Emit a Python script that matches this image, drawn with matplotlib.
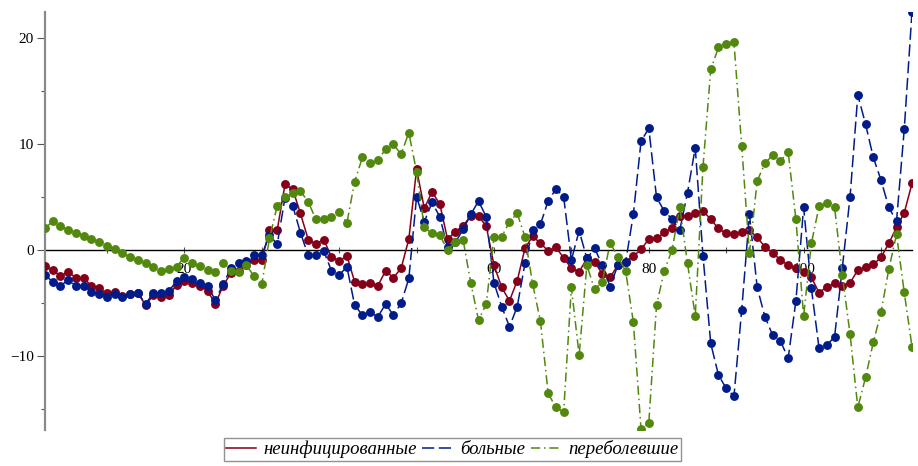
import matplotlib
matplotlib.use("Agg")
import matplotlib.pyplot as plt
from matplotlib.lines import Line2D
import numpy as np

# ---- data -------------------------------------------------------------
x_start, x_end = 2, 114

uninfected = [  # неинфицированные
    -1.48, -1.89, -2.46, -2.05, -2.61, -2.68, -3.37, -3.62, -4.09, -3.94,
    -4.31, -4.16, -4.09, -5.20, -4.25, -4.47, -4.25, -3.31, -2.93, -3.09,
    -3.37, -3.84, -5.10, -3.37, -2.20, -1.95, -1.42, -0.94, -0.94, 1.89,
    1.89, 6.20, 5.76, 3.46, 1.00, 0.57, 1.00, -0.63, -1.04, -0.54,
    -2.99, -3.24, -3.15, -3.37, -1.95, -2.61, -1.73, 1.04, 7.65, 3.94,
    5.51, 4.35, 1.04, 1.73, 2.30, 3.21, 3.21, 2.27, -1.42, -3.53,
    -4.79, -2.90, 0.16, 1.32, 0.63, -0.06, 0.25, -0.72, -1.73, -2.05,
    -0.79, -1.10, -2.27, -2.58, -1.42, -1.10, -0.57, 0.06, 1.04, 1.10,
    1.67, 2.10, 3.20, 3.21, 3.46, 3.72, 2.90, 2.05, 1.57, 1.48,
    1.67, 1.89, 1.20, 0.31, -0.25, -0.94, -1.42, -1.73, -2.05, -2.58,
    -4.03, -3.46, -3.15, -3.37, -3.09, -1.89, -1.64, -1.35, -0.69, 0.63,
    2.14, 3.53, 6.30,
]

sick = [  # больные
    -2.36, -2.99, -3.37, -2.83, -3.37, -3.37, -3.94, -4.16, -4.41, -4.16,
    -4.41, -4.19, -4.03, -5.10, -4.03, -4.09, -3.87, -2.93, -2.52, -2.77,
    -3.09, -3.40, -4.72, -3.24, -1.73, -1.20, -1.01, -0.50, -0.50, 1.42,
    0.54, 4.95, 4.19, 1.64, -0.50, -0.50, -0.06, -1.95, -2.36, -1.57,
    -5.20, -6.14, -5.89, -6.30, -5.10, -6.14, -5.04, -2.68, 5.04, 2.68,
    4.50, 3.15, 0.25, 0.72, 1.95, 3.37, 4.63, 3.15, -3.09, -5.35,
    -7.24, -5.35, -1.26, 1.89, 2.43, 4.66, 5.76, 5.04, -0.94, 1.83,
    -0.79, 0.16, -1.42, -3.46, -1.42, -1.17, 3.37, 10.30, 11.50, 4.98,
    3.69, 2.93, 1.89, 5.42, 9.67, -0.54, -8.82, -11.81, -13.07, -13.80,
    -5.67, 3.37, -3.53, -6.30, -8.03, -8.57, -10.24, -4.82, 4.03, -3.62,
    -9.29, -8.98, -8.19, -1.67, 5.04, 14.65, 11.91, 8.76, 6.61, 4.03,
    2.74, 11.43, 22.52,
]

recovered = [  # переболевшие
    2.05, 2.74, 2.30, 1.89, 1.64, 1.32, 1.04, 0.72, 0.41, 0.06,
    -0.31, -0.63, -0.94, -1.26, -1.57, -2.00, -1.83, -1.55, -0.70, -1.26,
    -1.50, -1.90, -2.10, -1.18, -1.95, -2.05, -1.42, -2.46, -3.24, 1.10,
    4.19, 4.98, 5.35, 5.57, 4.57, 2.90, 2.90, 3.15, 3.62, 2.58,
    6.46, 8.76, 8.19, 8.50, 9.54, 9.98, 9.07, 11.09, 7.40, 2.14,
    1.57, 1.42, 0.00, 0.72, 1.00, -3.09, -6.61, -5.10, 1.26, 1.26,
    2.68, 3.46, 1.26, -3.21, -6.71, -13.54, -14.87, -15.28, -3.53, -9.92,
    -1.42, -3.72, -2.99, 0.69, -0.63, -1.95, -6.77, -16.95, -16.30, -5.20,
    -1.95, 0.00, 4.03, -1.26, -6.24, 7.87, 17.07, 19.15, 19.46, 19.62,
    9.86, -0.31, 6.55, 8.19, 8.98, 8.41, 9.29, 2.93, -6.24, 0.63,
    4.16, 4.41, 4.03, -2.36, -7.97, -14.87, -12.03, -8.72, -5.89, -1.80,
    1.48, -4.00, -9.13,
]

labels = ["неинфицированные", "больные", "переболевшие"]
x_tick_labels = {20: "20", 60: "60", 80: "80", 100: "100"}
y_major = [-10, 0, 10, 20]
y_minor = [-15, -5, 5, 15]

# ---- styling -----------------------------------------------------------
colors = ["#84001A", "#001C8A", "#52880E"]
dashes = [None, (8, 3), (6, 2.5, 1, 2.5)]

x = np.arange(x_start, x_end + 1)
series = [uninfected, sick, recovered]

fig = plt.figure(figsize=(9.18, 4.66), dpi=100)
W, H = 918, 466
ax = fig.add_axes([45 / W, (H - 430) / H, (912 - 45) / W, (430 - 12) / H])

for vals, c, d in zip(series, colors, dashes):
    ln, = ax.plot(x, vals, color=c, lw=1.1, marker="o", markersize=6.4,
                  markeredgewidth=0, zorder=3)
    if d is not None:
        ln.set_dashes(d)

ax.set_xlim(x_start, x_end)
ax.set_ylim(-17.0, 22.5)

# spines
for s in ["top", "right"]:
    ax.spines[s].set_visible(False)
ax.spines["left"].set_color("#8a8a8a")
ax.spines["left"].set_linewidth(1.6)
ax.spines["bottom"].set_position(("data", 0))
ax.spines["bottom"].set_color("black")
ax.spines["bottom"].set_linewidth(1.0)
ax.spines["bottom"].set_zorder(2)

serif = "Liberation Serif"

# x ticks
xt = list(range(10, 111, 10))
ax.set_xticks(xt)
ax.set_xticklabels([x_tick_labels.get(v, "") for v in xt],
                   fontfamily=serif, fontsize=11)
ax.tick_params(axis="x", direction="inout", length=5, width=0.8,
               color="#555555", pad=7)

# y ticks
ax.set_yticks(y_major)
ax.set_yticklabels([str(v).replace("-", "\u2212") for v in y_major],
                   fontfamily=serif, fontsize=11)
ax.set_yticks(y_minor, minor=True)
ax.tick_params(axis="y", which="major", direction="out", length=6,
               width=0.8, color="#555555", pad=2)
ax.tick_params(axis="y", which="minor", direction="out", length=3,
               width=0.8, color="#555555")

# legend
handles = []
for c, d in zip(colors, dashes):
    h = Line2D([], [], color=c, lw=1.1)
    if d is not None:
        h.set_dashes(d)
    handles.append(h)
leg = fig.legend(handles, labels, loc="center", ncol=3,
                 bbox_to_anchor=(452 / W, 1 - 449.5 / H),
                 prop={"family": serif, "style": "italic", "size": 13.5},
                 frameon=True, fancybox=False, handlelength=1.6,
                 handletextpad=0.4, columnspacing=0.3, borderpad=0.12,
                 borderaxespad=0)
leg.get_frame().set_edgecolor("#777777")
leg.get_frame().set_linewidth(1.0)

fig.savefig("out.png", dpi=100)
